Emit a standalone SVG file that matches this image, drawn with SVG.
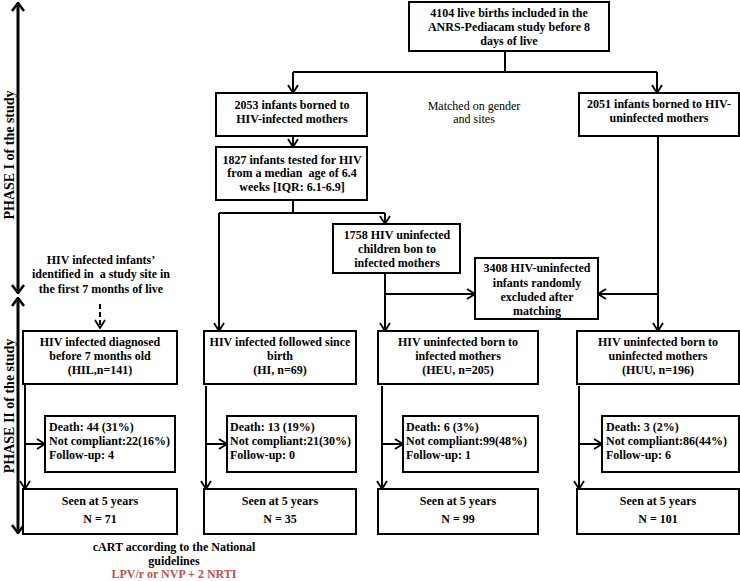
<svg xmlns="http://www.w3.org/2000/svg" width="740" height="581" viewBox="0 0 740 581">
<defs>
<style>
.b{fill:#fff;stroke:#000;stroke-width:2}
.t{font-family:"Liberation Serif","Times New Roman",serif;font-size:12px;font-weight:bold;text-anchor:middle;fill:#000}
.l{text-anchor:start}
.n{font-weight:normal}
.p{font-size:14px}
.r{fill:#c0504d}
.c{fill:none;stroke:#000;stroke-width:2}
.a{marker-end:url(#ah)}
.ph{fill:none;stroke:#000;stroke-width:3;marker-start:url(#ph);marker-end:url(#ph)}
</style>
<marker id="ah" viewBox="0 0 10 12" refX="9" refY="6" markerWidth="10" markerHeight="12" markerUnits="userSpaceOnUse" orient="auto">
<path d="M1,1 L9,6 L1,11" fill="none" stroke="#000" stroke-width="1.8"/>
</marker>
<marker id="ph" viewBox="0 0 10 14" refX="9" refY="7" markerWidth="10" markerHeight="14" markerUnits="userSpaceOnUse" orient="auto-start-reverse">
<path d="M1,1 L9,7 L1,13" fill="none" stroke="#000" stroke-width="2.6"/>
</marker>
</defs>
<rect width="740" height="581" fill="#fff"/>

<g id="connectors">
<path class="c" d="M505,51 V72 M293,72 H657"/>
<path class="c a" d="M293,72 V93"/>
<path class="c a" d="M657,72 V93"/>
<path class="c a" d="M293,136 V147"/>
<path class="c" d="M293,200 V213 M219,213 H385"/>
<path class="c a" d="M385,213 V224"/>
<path class="c a" d="M219,213 V331"/>
<path class="c a" d="M385,273 V331"/>
<path class="c a" d="M385,294 H475"/>
<path class="c a" d="M658,136 V331"/>
<path class="c a" d="M658,294 H598"/>
<path class="c a" d="M100,304 V328" stroke-dasharray="5,3"/>
<path class="c a" d="M25,384 V489"/>
<path class="c a" d="M25,444 H45"/>
<path class="c a" d="M206,386 V489"/>
<path class="c a" d="M206,444 H227"/>
<path class="c a" d="M382,386 V489"/>
<path class="c a" d="M382,444 H403"/>
<path class="c a" d="M579,386 V489"/>
<path class="c a" d="M579,444 H602"/>
</g>

<g id="phase1">
<path class="ph" d="M18,3 V293"/>
<text class="t p" transform="translate(14,155) rotate(-90)">PHASE I of the study</text>
</g>
<g id="phase2">
<path class="ph" d="M18,298 V533"/>
<text class="t p" transform="translate(14,406) rotate(-90)">PHASE II of the study</text>
</g>

<g id="n4104">
<rect class="b" x="409" y="2" width="200" height="49"/>
<text class="t" x="509" y="17">4104 live births included in the</text>
<text class="t" x="509" y="31">ANRS-Pediacam study before 8</text>
<text class="t" x="509" y="45">days of live</text>
</g>
<g id="n2053">
<rect class="b" x="216" y="93" width="151" height="43"/>
<text class="t" x="292" y="109">2053 infants borned to</text>
<text class="t" x="292" y="123">HIV-infected mothers</text>
</g>
<g id="matched">
<text class="t n" x="474" y="110">Matched on gender</text>
<text class="t n" x="474" y="123">and sites</text>
</g>
<g id="n2051">
<rect class="b" x="579" y="93" width="160" height="43"/>
<text class="t" x="659" y="108">2051 infants borned to HIV-</text>
<text class="t" x="659" y="122">uninfected mothers</text>
</g>
<g id="n1827">
<rect class="b" x="216" y="147" width="151" height="53"/>
<text class="t" x="292" y="164">1827 infants tested for HIV</text>
<text class="t" x="292" y="177" xml:space="preserve">from a median  age of 6.4</text>
<text class="t" x="292" y="191">weeks [IQR: 6.1-6.9]</text>
</g>
<g id="n1758">
<rect class="b" x="333" y="224" width="127" height="49"/>
<text class="t" x="397" y="239">1758 HIV uninfected</text>
<text class="t" x="397" y="253">children bon to</text>
<text class="t" x="397" y="267">infected mothers</text>
</g>
<g id="n3408">
<rect class="b" x="475" y="258" width="123" height="61"/>
<text class="t" x="537" y="272">3408 HIV-uninfected</text>
<text class="t" x="537" y="287">infants randomly</text>
<text class="t" x="537" y="301">excluded after</text>
<text class="t" x="537" y="315">matching</text>
</g>
<g id="identified">
<text class="t" x="101" y="264">HIV infected infants’</text>
<text class="t" x="101" y="278" xml:space="preserve">identified in  a study site in</text>
<text class="t" x="101" y="293">the first 7 months of live</text>
</g>

<g id="hil">
<rect class="b" x="23" y="331" width="154" height="53"/>
<text class="t" x="100" y="346">HIV infected diagnosed</text>
<text class="t" x="100" y="360">before 7 months old</text>
<text class="t" x="100" y="374">(HIL,n=141)</text>
</g>
<g id="hi">
<rect class="b" x="204" y="331" width="152" height="53"/>
<text class="t" x="280" y="346">HIV infected followed since</text>
<text class="t" x="280" y="360">birth</text>
<text class="t" x="280" y="374">(HI, n=69)</text>
</g>
<g id="heu">
<rect class="b" x="378" y="331" width="160" height="53"/>
<text class="t" x="458" y="346">HIV uninfected born to</text>
<text class="t" x="458" y="360">infected mothers</text>
<text class="t" x="458" y="374">(HEU, n=205)</text>
</g>
<g id="huu">
<rect class="b" x="577" y="331" width="162" height="53"/>
<text class="t" x="658" y="346">HIV uninfected born to</text>
<text class="t" x="658" y="360">uninfected mothers</text>
<text class="t" x="658" y="374">(HUU, n=196)</text>
</g>

<g id="hil-out">
<rect class="b" x="45" y="416" width="130" height="56"/>
<text class="t l" x="49" y="431">Death: 44 (31%)</text>
<text class="t l" x="49" y="445">Not compliant:22(16%)</text>
<text class="t l" x="49" y="459">Follow-up: 4</text>
</g>
<g id="hi-out">
<rect class="b" x="227" y="416" width="129" height="56"/>
<text class="t l" x="230" y="431">Death: 13 (19%)</text>
<text class="t l" x="230" y="445">Not compliant:21(30%)</text>
<text class="t l" x="230" y="459">Follow-up: 0</text>
</g>
<g id="heu-out">
<rect class="b" x="403" y="416" width="135" height="56"/>
<text class="t l" x="406" y="431">Death: 6 (3%)</text>
<text class="t l" x="406" y="445">Not compliant:99(48%)</text>
<text class="t l" x="406" y="459">Follow-up: 1</text>
</g>
<g id="huu-out">
<rect class="b" x="602" y="416" width="137" height="56"/>
<text class="t l" x="606" y="431">Death: 3 (2%)</text>
<text class="t l" x="606" y="445">Not compliant:86(44%)</text>
<text class="t l" x="606" y="459">Follow-up: 6</text>
</g>

<g id="hil-5y">
<rect class="b" x="23" y="489" width="154" height="45"/>
<text class="t" x="100" y="505">Seen at 5 years</text>
<text class="t" x="100" y="523">N = 71</text>
</g>
<g id="hi-5y">
<rect class="b" x="204" y="489" width="152" height="45"/>
<text class="t" x="280" y="505">Seen at 5 years</text>
<text class="t" x="280" y="523">N = 35</text>
</g>
<g id="heu-5y">
<rect class="b" x="378" y="489" width="160" height="45"/>
<text class="t" x="458" y="505">Seen at 5 years</text>
<text class="t" x="458" y="523">N = 99</text>
</g>
<g id="huu-5y">
<rect class="b" x="577" y="489" width="162" height="45"/>
<text class="t" x="658" y="505">Seen at 5 years</text>
<text class="t" x="658" y="523">N = 101</text>
</g>

<g id="cart">
<text class="t" x="174" y="551">cART according to the National</text>
<text class="t" x="174" y="565">guidelines</text>
<text class="t r" x="174" y="578">LPV/r or NVP + 2 NRTI</text>
</g>
</svg>
